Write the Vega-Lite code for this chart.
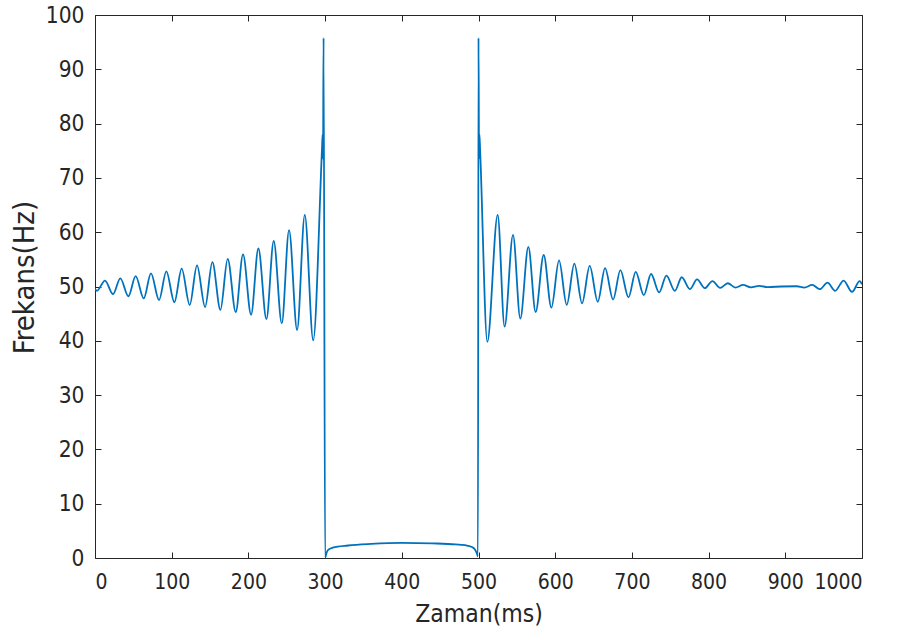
{
  "$schema": "https://vega.github.io/schema/vega-lite/v6.json",
  "width": 767,
  "height": 543,
  "autosize": "none",
  "padding": {"left": 95, "top": 15, "right": 35, "bottom": 79},
  "background": "white",
  "config": {
    "view": {"stroke": "#262626", "strokeWidth": 1},
    "font": "Liberation Sans Narrow, DejaVu Sans Condensed, Liberation Sans, Arial",
    "axis": {
      "grid": false,
      "domain": false,
      "tickColor": "#262626",
      "tickSize": -6,
      "labelColor": "#262626",
      "titleColor": "#262626",
      "titleFontWeight": "normal",
      "labelFont": "Liberation Sans Narrow, DejaVu Sans Condensed, Liberation Sans, Arial",
      "titleFont": "Liberation Sans Narrow, DejaVu Sans Condensed, Liberation Sans, Arial"
    }
  },
  "data": {
    "values": [
      {"t": 0, "f": 49.6}, {"t": 2.5, "f": 49.2}, {"t": 13, "f": 51.1}, {"t": 23.5, "f": 48.6},
      {"t": 33, "f": 51.5}, {"t": 43.5, "f": 48.2}, {"t": 53, "f": 51.9}, {"t": 63.5, "f": 47.8},
      {"t": 73, "f": 52.4}, {"t": 83.5, "f": 47.5}, {"t": 93, "f": 52.8}, {"t": 103.5, "f": 47.1},
      {"t": 113, "f": 53.3}, {"t": 123.5, "f": 46.6}, {"t": 133, "f": 53.9}, {"t": 143.5, "f": 46.2},
      {"t": 153, "f": 54.5}, {"t": 163.5, "f": 45.7}, {"t": 173, "f": 55.1}, {"t": 183.5, "f": 45.3},
      {"t": 193, "f": 55.9}, {"t": 203.5, "f": 44.8}, {"t": 213, "f": 57.0}, {"t": 223.5, "f": 44.0},
      {"t": 233, "f": 58.4}, {"t": 243.5, "f": 43.2}, {"t": 253, "f": 60.4}, {"t": 263.5, "f": 42.0},
      {"t": 273.5, "f": 63.2}, {"t": 284.5, "f": 40.1}, {"t": 296, "f": 75.5}, {"t": 296.8, "f": 78},
      {"t": 297.3, "f": 73.5}, {"t": 298, "f": 95.8}, {"t": 300, "f": 0.1}, {"t": 302, "f": 1.0},
      {"t": 304, "f": 1.5}, {"t": 310, "f": 1.9}, {"t": 330, "f": 2.3}, {"t": 360, "f": 2.6},
      {"t": 400, "f": 2.8}, {"t": 440, "f": 2.7}, {"t": 470, "f": 2.5}, {"t": 488, "f": 2.2},
      {"t": 494, "f": 1.8}, {"t": 497.5, "f": 1.0}, {"t": 499.3, "f": 0.3}, {"t": 500, "f": 95.8},
      {"t": 500.7, "f": 73.5}, {"t": 501.2, "f": 78}, {"t": 502, "f": 75.5}, {"t": 511.5, "f": 39.8},
      {"t": 525, "f": 63.2}, {"t": 534, "f": 42.6}, {"t": 545, "f": 59.5}, {"t": 554.5, "f": 44.1},
      {"t": 565, "f": 57.3}, {"t": 574.5, "f": 45.3}, {"t": 585, "f": 55.8}, {"t": 595, "f": 46.1},
      {"t": 605, "f": 54.8}, {"t": 615, "f": 46.6}, {"t": 625, "f": 54.2}, {"t": 635, "f": 46.9},
      {"t": 645, "f": 53.8}, {"t": 655.5, "f": 47.2}, {"t": 665, "f": 53.4}, {"t": 675.5, "f": 47.6},
      {"t": 685, "f": 53.0}, {"t": 695.5, "f": 48.0}, {"t": 705, "f": 52.7}, {"t": 715.5, "f": 48.4},
      {"t": 725, "f": 52.3}, {"t": 735.5, "f": 48.9}, {"t": 745, "f": 52.0}, {"t": 756, "f": 49.2},
      {"t": 765, "f": 51.7}, {"t": 775.5, "f": 49.5}, {"t": 785, "f": 51.3}, {"t": 795, "f": 49.7},
      {"t": 805, "f": 51.0}, {"t": 815, "f": 49.75}, {"t": 825, "f": 50.6}, {"t": 835, "f": 49.8},
      {"t": 845, "f": 50.3}, {"t": 855, "f": 49.85}, {"t": 866, "f": 50.1}, {"t": 877, "f": 49.9},
      {"t": 895, "f": 50.0}, {"t": 915, "f": 50.05}, {"t": 925, "f": 49.8}, {"t": 935, "f": 50.3},
      {"t": 945, "f": 49.5}, {"t": 955, "f": 50.7}, {"t": 965, "f": 49.2}, {"t": 976, "f": 51.1},
      {"t": 987, "f": 49.0}, {"t": 997, "f": 51.0}, {"t": 1000, "f": 50.4}
    ]
  },
  "layer": [
    {
      "mark": {"type": "line", "color": "#0072BD", "strokeWidth": 1.8, "interpolate": "monotone", "clip": true},
      "encoding": {
        "x": {"field": "t", "type": "quantitative", "scale": {"domain": [0, 1000], "nice": false, "zero": false},
              "axis": {"title": "Zaman(ms)", "orient": "bottom", "format": "d", "values": [0,100,200,300,400,500,600,700,800,900,1000],
                       "labelFontSize": 21, "labelPadding": 19, "titleFontSize": 24.5, "titlePadding": 10}},
        "y": {"field": "f", "type": "quantitative", "scale": {"domain": [0, 100], "nice": false, "zero": false},
              "axis": {"title": "Frekans(Hz)", "orient": "left", "format": "d", "values": [0,10,20,30,40,50,60,70,80,90,100],
                       "labelFontSize": 22.5, "labelPadding": 17, "titleFontSize": 29, "titlePadding": 6, "titleY": 262}}
      }
    },
    {
      "mark": {"type": "line", "strokeOpacity": 0, "interpolate": "monotone"},
      "encoding": {
        "x": {"field": "t", "type": "quantitative", "scale": {"domain": [0, 1000], "nice": false, "zero": false},
              "axis": {"title": null, "orient": "top", "labels": false, "values": [0,100,200,300,400,500,600,700,800,900,1000]}},
        "y": {"field": "f", "type": "quantitative", "scale": {"domain": [0, 100], "nice": false, "zero": false},
              "axis": {"title": null, "orient": "right", "labels": false, "values": [0,10,20,30,40,50,60,70,80,90,100]}}
      }
    }
  ],
  "resolve": {"axis": {"x": "independent", "y": "independent"}}
}
